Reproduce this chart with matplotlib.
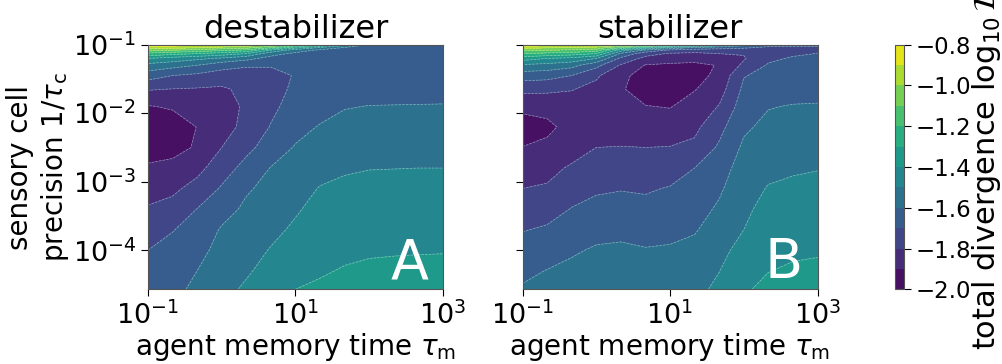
import numpy as np
import matplotlib
matplotlib.use('Agg')
import matplotlib.pyplot as plt
from matplotlib.ticker import FuncFormatter

# ---- data (log10 axes) ----
log_tau_m = [-1.0, -0.667, -0.333, 0.0, 0.333, 0.667, 1.0, 1.333, 1.667, 2.0, 2.333, 2.667, 3.0]
log_precision = [-1.0, -1.04, -1.08, -1.13, -1.2, -1.3, -1.45, -1.65, -1.9, -2.2,
                 -2.5, -2.8, -3.1, -3.4, -3.7, -4.0, -4.3, -4.57]

# log10 D, one list per tau_m column (top -> bottom in precision)
destab_cols = [
    [-0.82, -0.933, -1.067, -1.225, -1.40, -1.533, -1.654, -1.793, -1.905, -1.95, -1.945, -1.886, -1.838, -1.791, -1.745, -1.70, -1.68, -1.665],
    [-0.84, -0.96, -1.10, -1.267, -1.44, -1.564, -1.70, -1.803, -1.89, -1.945, -1.93, -1.874, -1.821, -1.764, -1.704, -1.672, -1.65, -1.63],
    [-0.86, -0.98, -1.133, -1.30, -1.476, -1.60, -1.722, -1.808, -1.88, -1.898, -1.89, -1.83, -1.764, -1.698, -1.666, -1.633, -1.60, -1.575],
    [-0.89, -1.02, -1.18, -1.343, -1.517, -1.663, -1.744, -1.815, -1.855, -1.85, -1.80, -1.744, -1.69, -1.639, -1.59, -1.565, -1.54, -1.52],
    [-0.93, -1.05, -1.22, -1.40, -1.57, -1.69, -1.74, -1.775, -1.78, -1.765, -1.725, -1.669, -1.612, -1.581, -1.556, -1.532, -1.508, -1.49],
    [-1.0, -1.18, -1.41, -1.564, -1.633, -1.694, -1.725, -1.73, -1.72, -1.695, -1.658, -1.596, -1.571, -1.545, -1.52, -1.495, -1.478, -1.46],
    [-1.1, -1.35, -1.55, -1.62, -1.655, -1.69, -1.695, -1.685, -1.665, -1.635, -1.592, -1.565, -1.536, -1.509, -1.487, -1.455, -1.425, -1.40],
    [-1.25, -1.5, -1.62, -1.65, -1.665, -1.67, -1.668, -1.66, -1.64, -1.593, -1.56, -1.531, -1.495, -1.475, -1.455, -1.435, -1.41, -1.385],
    [-1.45, -1.6, -1.64, -1.655, -1.66, -1.66, -1.655, -1.64, -1.605, -1.573, -1.541, -1.509, -1.484, -1.465, -1.445, -1.42, -1.393, -1.372],
    [-1.6, -1.63, -1.645, -1.65, -1.655, -1.655, -1.65, -1.635, -1.598, -1.566, -1.534, -1.502, -1.481, -1.461, -1.44, -1.41, -1.385, -1.365],
    [-1.63, -1.64, -1.648, -1.652, -1.655, -1.655, -1.648, -1.632, -1.597, -1.564, -1.532, -1.501, -1.48, -1.46, -1.438, -1.408, -1.38, -1.36],
    [-1.64, -1.645, -1.65, -1.653, -1.655, -1.655, -1.647, -1.631, -1.596, -1.563, -1.531, -1.50, -1.479, -1.459, -1.437, -1.406, -1.378, -1.358],
    [-1.65, -1.65, -1.652, -1.654, -1.655, -1.655, -1.646, -1.63, -1.595, -1.562, -1.53, -1.50, -1.478, -1.458, -1.436, -1.405, -1.376, -1.356],
]

stab_cols = [
    [-0.82, -0.967, -1.075, -1.20, -1.35, -1.518, -1.654, -1.775, -1.872, -1.95, -1.898, -1.851, -1.80, -1.752, -1.705, -1.663, -1.622, -1.59],
    [-0.84, -0.98, -1.10, -1.225, -1.40, -1.533, -1.664, -1.779, -1.87, -1.92, -1.88, -1.836, -1.787, -1.737, -1.688, -1.642, -1.597, -1.575],
    [-0.86, -1.0, -1.114, -1.25, -1.427, -1.567, -1.70, -1.795, -1.85, -1.87, -1.855, -1.784, -1.74, -1.696, -1.654, -1.611, -1.58, -1.56],
    [-0.89, -1.02, -1.15, -1.30, -1.50, -1.67, -1.785, -1.83, -1.86, -1.85, -1.80, -1.757, -1.714, -1.671, -1.628, -1.59, -1.565, -1.545],
    [-0.93, -1.2, -1.45, -1.617, -1.72, -1.81, -1.875, -1.89, -1.875, -1.845, -1.797, -1.751, -1.705, -1.663, -1.622, -1.585, -1.56, -1.535],
    [-1.0, -1.35, -1.62, -1.76, -1.83, -1.905, -1.94, -1.945, -1.897, -1.84, -1.80, -1.757, -1.71, -1.675, -1.63, -1.595, -1.565, -1.54],
    [-1.1, -1.5, -1.72, -1.81, -1.86, -1.915, -1.95, -1.95, -1.905, -1.85, -1.797, -1.745, -1.694, -1.66, -1.625, -1.59, -1.565, -1.54],
    [-1.25, -1.6, -1.75, -1.82, -1.87, -1.92, -1.935, -1.905, -1.86, -1.823, -1.779, -1.70, -1.67, -1.639, -1.608, -1.575, -1.547, -1.525],
    [-1.4, -1.65, -1.75, -1.80, -1.84, -1.895, -1.875, -1.845, -1.795, -1.73, -1.686, -1.651, -1.615, -1.585, -1.557, -1.529, -1.502, -1.48],
    [-1.55, -1.68, -1.75, -1.795, -1.808, -1.78, -1.705, -1.678, -1.65, -1.616, -1.583, -1.55, -1.533, -1.52, -1.50, -1.465, -1.435, -1.41],
    [-1.65, -1.72, -1.77, -1.79, -1.72, -1.69, -1.675, -1.65, -1.605, -1.576, -1.548, -1.52, -1.495, -1.468, -1.45, -1.425, -1.402, -1.38],
    [-1.68, -1.71, -1.725, -1.715, -1.69, -1.675, -1.66, -1.635, -1.595, -1.568, -1.54, -1.51, -1.484, -1.46, -1.437, -1.412, -1.39, -1.37],
    [-1.69, -1.705, -1.71, -1.698, -1.685, -1.672, -1.655, -1.63, -1.593, -1.565, -1.537, -1.503, -1.481, -1.458, -1.435, -1.408, -1.385, -1.365],
]

contour_levels = [-2.0, -1.9, -1.8, -1.7, -1.6, -1.5, -1.4, -1.3, -1.2, -1.1, -1.0, -0.9, -0.8]
cbar_ticks = [-2.0, -1.8, -1.6, -1.4, -1.2, -1.0, -0.8]
x_ticks = [-1, 1, 3]
y_ticks = [-4, -3, -2, -1]
panel_titles = ['destabilizer', 'stabilizer']
panel_letters = ['A', 'B']

# ---- figure ----
fig = plt.figure(figsize=(10.02, 3.64), dpi=100)
axA = fig.add_axes([0.1477, 0.2052, 0.2944, 0.672])
axB = fig.add_axes([0.5215, 0.2052, 0.2944, 0.672])
cax = fig.add_axes([0.8932, 0.2052, 0.009, 0.672])

X, Y = np.meshgrid(log_tau_m, log_precision)
pow_fmt = FuncFormatter(lambda v, p: r'$10^{%d}$' % int(round(v)))

cf = None
for ax, cols, title, letter in zip([axA, axB], [destab_cols, stab_cols], panel_titles, panel_letters):
    Z = np.array(cols).T
    cf = ax.contourf(X, Y, Z, levels=contour_levels, cmap='viridis', vmin=-2.0, vmax=-0.8)
    ax.contour(X, Y, Z, levels=contour_levels, colors='white', linewidths=0.5, alpha=0.45)
    ax.set_xlim(min(log_tau_m), max(log_tau_m))
    ax.set_ylim(min(log_precision), max(log_precision))
    ax.set_xticks(x_ticks)
    ax.set_yticks(y_ticks)
    ax.xaxis.set_major_formatter(pow_fmt)
    ax.yaxis.set_major_formatter(pow_fmt)
    ax.tick_params(labelsize=19.5, length=5)
    ax.set_title(title, fontsize=23, pad=5)
    ax.set_xlabel(r'agent memory time $\tau_{\rm m}$', fontsize=20, labelpad=1)
    ax.text(0.95, 0.045, letter, transform=ax.transAxes, ha='right', va='baseline',
            color='white', fontsize=40)
    for s in ax.spines.values():
        s.set_color('#555555')

axA.set_ylabel('sensory cell\n' + r'precision $1/\tau_{\rm c}$', fontsize=20)
axA.yaxis.set_label_coords(-0.262, 0.5)
axB.tick_params(labelleft=False)

cb = fig.colorbar(cf, cax=cax, ticks=cbar_ticks)
cb.ax.tick_params(labelsize=16.5, length=5)
cb.set_label(r'total divergence $\log_{10}\mathcal{D}$', fontsize=22, labelpad=-1)
cb.outline.set_edgecolor('#555555')

fig.savefig('out.png', dpi=100)
